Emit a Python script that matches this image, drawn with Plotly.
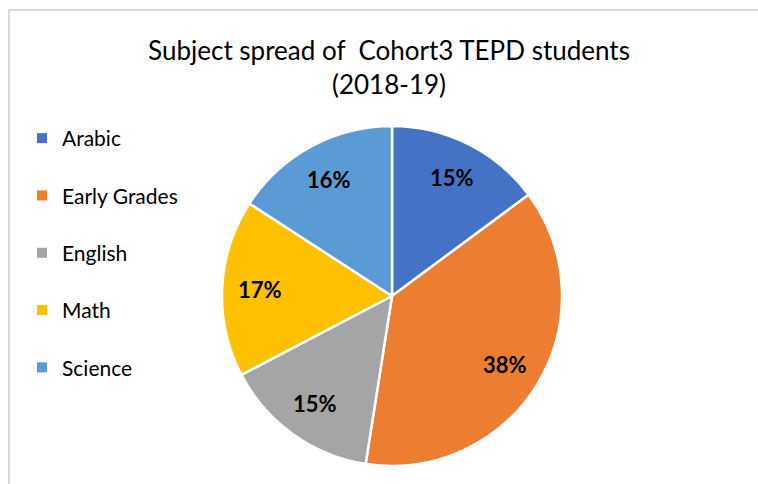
import math
import plotly.graph_objects as go

# Subject spread of Cohort 3 TEPD students, 2018-19
subjects = ["Arabic", "Early Grades", "English", "Math", "Science"]
shares = [15, 38, 15, 17, 16]
colors = ["#4472C4", "#ED7D31", "#A5A5A5", "#FFC000", "#5B9BD5"]

W, H = 758, 484
FONT = "Lato"

# pie placement (pixels on the canvas)
PIE_LEFT, PIE_RIGHT, PIE_TOP, PIE_BOTTOM = 222, 562, 126, 466
LABEL_RADIUS = 0.78  # fraction of the pie radius for the percent labels

fig = go.Figure()

fig.add_trace(go.Pie(
    labels=subjects,
    values=shares,
    sort=False,
    direction="clockwise",
    rotation=0,
    marker=dict(colors=colors, line=dict(color="white", width=2.5)),
    textinfo="none",
    domain=dict(x=[PIE_LEFT / W, PIE_RIGHT / W], y=[1 - PIE_BOTTOM / H, 1 - PIE_TOP / H]),
    showlegend=False,
    hoverinfo="label+percent",
))

# percent labels placed on each slice's mid-angle
cx = (PIE_LEFT + PIE_RIGHT) / 2
cy = (PIE_TOP + PIE_BOTTOM) / 2
radius = (PIE_RIGHT - PIE_LEFT) / 2
total = sum(shares)
annotations = []
acc = 0.0
for v in shares:
    mid = (acc + v / 2) / total * 2 * math.pi
    acc += v
    px = cx + LABEL_RADIUS * radius * math.sin(mid)
    py = cy - LABEL_RADIUS * radius * math.cos(mid)
    annotations.append(dict(
        x=px / W, y=1 - py / H, xref="paper", yref="paper",
        text=f"{round(100 * v / total)}%", showarrow=False,
        xanchor="center", yanchor="middle",
        font=dict(family=FONT, size=22, color="black", weight="bold"),
    ))

# legend entries, one group each so the rows can be spaced out
for name, col in zip(subjects, colors):
    fig.add_trace(go.Scatter(
        x=[None], y=[None], mode="markers", name=name, legendgroup=name,
        marker=dict(symbol="square", size=10, color=col),
    ))

fig.update_layout(
    width=W, height=H,
    margin=dict(l=0, r=0, t=0, b=0),
    paper_bgcolor="white",
    plot_bgcolor="white",
    xaxis=dict(visible=False),
    yaxis=dict(visible=False),
    title=dict(
        text="Subject spread of  Cohort3 TEPD students<br>(2018-19)",
        x=389 / W, xanchor="center", y=1 - 60 / H, yanchor="middle",
        font=dict(family=FONT, size=26, color="black"),
    ),
    legend=dict(
        x=22 / W, xanchor="left", y=1 - 118 / H, yanchor="top",
        font=dict(family=FONT, size=21, color="black"),
        tracegroupgap=27, itemwidth=30,
        bgcolor="rgba(0,0,0,0)",
    ),
    annotations=annotations,
    shapes=[dict(
        type="rect", xref="paper", yref="paper",
        x0=9 / W, x1=1.02, y0=-0.02, y1=1 - 10 / H,
        line=dict(color="#D9D9D9", width=2), layer="below",
    )],
)

fig.write_html("out.html")
